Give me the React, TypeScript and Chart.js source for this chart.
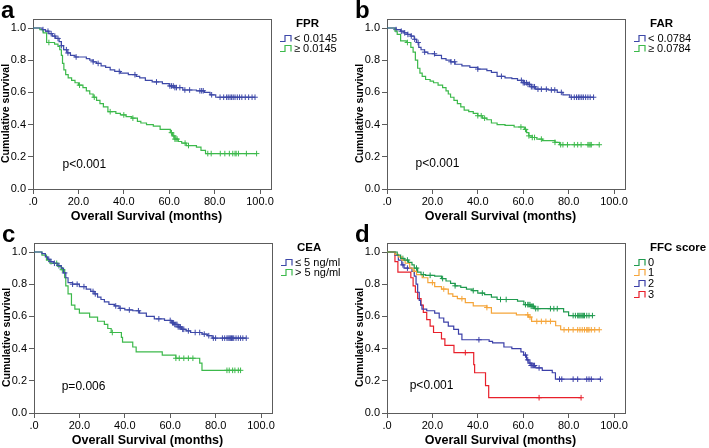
import React, { useEffect, useRef } from 'react';
import { Chart, registerables } from 'chart.js';

Chart.register(...registerables);

const FONT = '"Liberation Sans", Arial, Helvetica, sans-serif';
const TEXT = '#000000';
const FRAME = '#5c5c5c';

const xTicks = [0, 20, 40, 60, 80, 100];
const yTicks = [0, 0.2, 0.4, 0.6, 0.8, 1.0];
const xTitle = 'Overall Survival (months)';
const yTitle = 'Cumulative survival';

// ---------- Panel a (FPR) ----------
const aLowT = [0, 4, 5.5, 7, 8.5, 10, 11.5, 12.5, 13.5, 15, 16.5, 18.5, 23.5, 25, 26.5, 28, 30, 32, 34, 36, 38.5, 42, 45.5, 47, 49.5, 52.5, 57, 60, 62.5, 66, 72, 75.5, 78, 80.5];
const aLowS = [1, 0.99, 0.98, 0.965, 0.95, 0.935, 0.915, 0.89, 0.865, 0.845, 0.83, 0.82, 0.81, 0.8, 0.79, 0.78, 0.765, 0.755, 0.74, 0.73, 0.72, 0.71, 0.7, 0.69, 0.675, 0.665, 0.655, 0.64, 0.63, 0.615, 0.61, 0.6, 0.585, 0.57];
const aLowC = [4.4, 6.6, 8, 9.6, 11, 12.5, 14.7, 15.4, 19, 26.5, 28.7, 38, 44.9, 54.4, 60.3, 61, 61.8, 62.5, 63.2, 64.7, 66.9, 69, 73.5, 74.3, 75, 78.7, 82.4, 84, 85.3, 86, 86.8, 87.5, 88.2, 89, 90, 91, 92, 93.5, 95, 96.5, 97.8];
const aHighT = [0, 3, 4.5, 6, 9.5, 11, 11.8, 12.5, 13, 13.6, 14.4, 15.5, 17, 18.5, 20, 22, 23.5, 25, 26.5, 28, 29.5, 31, 33, 36.5, 38.5, 41, 43.5, 46, 47.5, 50, 53, 56, 60.5, 61.5, 62.5, 64, 65.5, 67.5, 72, 74, 76];
const aHighS = [1, 0.99, 0.97, 0.91, 0.9, 0.885, 0.865, 0.83, 0.78, 0.74, 0.71, 0.69, 0.675, 0.66, 0.645, 0.63, 0.61, 0.59, 0.57, 0.55, 0.53, 0.51, 0.48, 0.47, 0.46, 0.45, 0.44, 0.42, 0.41, 0.4, 0.39, 0.37, 0.35, 0.33, 0.31, 0.295, 0.285, 0.27, 0.26, 0.24, 0.22];
const aHighC = [7, 20.5, 27, 34, 40, 44, 61, 62, 62.5, 63, 63.5, 67, 68.5, 77, 78.5, 82.5, 84.5, 86.5, 88, 89, 89.5, 90.5, 94, 98.5];

// ---------- Panel b (FAR) ----------
const bLowT = [0, 4, 6, 7.5, 9, 10.5, 12, 13, 14, 15, 16.5, 18, 21, 24, 26, 28, 30, 33, 36.5, 40, 44, 46, 48.5, 52, 55, 57.5, 60, 62, 63.5, 65.5, 71, 75, 77.5, 80.5];
const bLowS = [1, 0.99, 0.98, 0.97, 0.96, 0.95, 0.93, 0.91, 0.88, 0.865, 0.85, 0.84, 0.83, 0.81, 0.8, 0.79, 0.775, 0.765, 0.755, 0.745, 0.735, 0.725, 0.7, 0.69, 0.685, 0.675, 0.66, 0.65, 0.635, 0.62, 0.615, 0.6, 0.585, 0.57];
const bLowC = [4, 6.3, 7.8, 9.2, 10.7, 12.2, 13.7, 16.6, 20.9, 28.2, 29.8, 40, 50.4, 59.2, 60, 60.6, 61.4, 62.1, 62.8, 63.6, 64.3, 65, 66.5, 68, 70.2, 72.4, 73.9, 76.8, 81.2, 82.5, 83.5, 84.3, 85, 85.8, 86.5, 87.5, 88.5, 89.5, 91];
const bHighT = [0, 3.5, 4.5, 6, 8.5, 10.5, 11.5, 12.5, 13.5, 14.5, 15.5, 17, 19, 20.5, 22.5, 24.5, 26, 27, 28, 29.5, 31, 32.5, 34, 36, 38, 40, 42, 44, 46, 48.5, 52, 56, 60.5, 61.5, 62.5, 64, 66, 68.5, 74, 76];
const bHighS = [1, 0.98, 0.96, 0.92, 0.91, 0.88, 0.85, 0.8, 0.75, 0.72, 0.7, 0.68, 0.67, 0.66, 0.645, 0.63, 0.61, 0.59, 0.57, 0.55, 0.53, 0.51, 0.49, 0.48, 0.47, 0.455, 0.44, 0.43, 0.41, 0.4, 0.395, 0.385, 0.37, 0.35, 0.33, 0.32, 0.31, 0.3, 0.29, 0.275];
const bHighC = [9, 40, 41.5, 43, 59, 61, 62.5, 64, 65, 68, 74, 76.5, 77.5, 79.5, 82.5, 84, 85.5, 88.5, 89, 89.5, 90, 93.5];

// ---------- Panel c (CEA) ----------
const cLowT = [0, 3.5, 5, 6, 7, 8.5, 10.5, 12, 13, 14, 15, 17, 20, 23, 25, 26.5, 28, 29.5, 31, 33, 35.5, 37.5, 40, 43.5, 46.5, 49.5, 53, 57.5, 60.5, 62, 63.5, 65, 67, 69, 74, 76.5, 78.5];
const cLowS = [1, 0.99, 0.97, 0.955, 0.94, 0.93, 0.915, 0.9, 0.87, 0.84, 0.81, 0.8, 0.785, 0.77, 0.755, 0.74, 0.72, 0.705, 0.69, 0.675, 0.665, 0.65, 0.64, 0.635, 0.62, 0.6, 0.585, 0.575, 0.56, 0.55, 0.535, 0.52, 0.51, 0.5, 0.49, 0.48, 0.465];
const cLowC = [6.5, 7.5, 9, 11, 13.5, 17, 19, 22, 26, 27, 36, 38, 42, 46, 55, 60, 61, 61.5, 62, 62.5, 63, 63.5, 64, 64.5, 65.5, 66, 68, 71, 73, 75, 77, 79, 80, 83, 84, 85, 85.5, 86, 86.5, 87, 87.5, 88, 89, 90, 91, 92, 93.5];
const cHighT = [0, 3.5, 5.5, 7, 10.5, 12, 13.5, 14, 15, 16.5, 18, 20, 24.5, 28, 31, 32.5, 34, 38.5, 39, 43.5, 45, 56.5, 62.5, 73, 74];
const cHighS = [1, 0.98, 0.95, 0.93, 0.91, 0.89, 0.84, 0.79, 0.74, 0.67, 0.645, 0.62, 0.595, 0.57, 0.55, 0.525, 0.5, 0.47, 0.44, 0.41, 0.38, 0.36, 0.34, 0.31, 0.265];
const cHighC = [10, 12.5, 34.5, 62.5, 64, 66, 68, 70, 85, 86, 87.5, 88.5, 90, 91];

// ---------- Panel d (FFC score) ----------
const d0T = [0, 4.5, 6, 7.5, 9.5, 11, 12, 13.5, 15, 17, 21, 24, 26, 28, 30, 32.5, 35, 37.5, 40, 43, 46, 48.5, 57.5, 60.3, 63.2, 65, 77.8, 80];
const d0S = [1, 0.98, 0.96, 0.95, 0.935, 0.92, 0.9, 0.875, 0.86, 0.855, 0.85, 0.835, 0.82, 0.805, 0.79, 0.78, 0.77, 0.76, 0.745, 0.735, 0.72, 0.705, 0.695, 0.673, 0.663, 0.648, 0.628, 0.605];
const d0C = [7, 9, 13, 16, 19, 24.5, 30, 38, 42, 50, 52.5, 61, 62, 62.5, 63, 63.5, 64, 64.5, 65.5, 66.5, 72, 73.5, 75, 82, 83, 84, 84.5, 85, 85.5, 86, 86.5, 87, 88, 89, 90.5];
const d1T = [0, 3.5, 5, 6.5, 8, 10, 11.5, 13, 15.5, 18, 21, 24, 27, 29, 31, 34.5, 38, 44, 46, 57, 62.4, 63.7, 74.3, 76.5];
const d1S = [1, 0.985, 0.97, 0.95, 0.93, 0.9, 0.88, 0.86, 0.84, 0.81, 0.785, 0.77, 0.74, 0.725, 0.71, 0.685, 0.665, 0.655, 0.62, 0.61, 0.596, 0.569, 0.542, 0.517];
const d1C = [12, 20, 25, 33, 44, 62, 63, 66, 68, 70, 72, 78, 80, 82, 84, 85, 86, 87, 88, 88.5, 89, 90, 91.5, 93.5];
const d2T = [0, 3.5, 5, 6.5, 7.5, 11, 12, 12.8, 13.5, 14.2, 14.8, 15.4, 17.5, 21, 23, 25, 27, 29.4, 31.5, 33, 45, 46.5, 51.5, 55, 59, 60.2, 61.5, 62.5, 63.5, 65.5, 68.4, 72.8, 74.2];
const d2S = [1, 0.98, 0.95, 0.92, 0.9, 0.88, 0.85, 0.8, 0.75, 0.7, 0.67, 0.645, 0.635, 0.62, 0.59, 0.565, 0.54, 0.52, 0.49, 0.455, 0.445, 0.435, 0.41, 0.4, 0.38, 0.36, 0.33, 0.31, 0.295, 0.28, 0.265, 0.25, 0.21];
const d2C = [7, 9, 40.5, 61, 62, 63, 63.5, 64, 64.5, 65, 67, 76, 77, 82, 84, 88, 89, 90, 94];
const d3T = [0, 3.5, 4.8, 10.5, 11.5, 12.5, 13.5, 15, 16, 17.5, 19, 20.5, 24, 25.5, 29.5, 38.2, 38.6, 43.4, 44.8];
const d3S = [1, 0.94, 0.875, 0.84, 0.79, 0.75, 0.71, 0.67, 0.625, 0.58, 0.54, 0.5, 0.46, 0.42, 0.375, 0.3, 0.25, 0.17, 0.095];
const d3C = [34.5, 67, 85.5];

const BLUE = '#3d48a8';
const GREEN = '#3cb94b';
const D_GREEN = '#1f9a4e';
const ORANGE = '#f5a53a';
const D_BLUE = '#3b3fa8';
const RED = '#e8202b';

type Series = { label: string; color: string; t: number[]; s: number[]; c: number[] };
type PanelCfg = {
  letter: string; title: string; p: string; pAt: { x: number; y: number };
  left: number; top: number; series: Series[];
};

const panels: PanelCfg[] = [
  {
    letter: 'a', title: 'FPR', p: 'p<0.001', pAt: { x: 13, y: 0.132 }, left: 0, top: 0,
    series: [
      { label: '< 0.0145', color: BLUE, t: aLowT, s: aLowS, c: aLowC },
      { label: '\u2265 0.0145', color: GREEN, t: aHighT, s: aHighS, c: aHighC },
    ],
  },
  {
    letter: 'b', title: 'FAR', p: 'p<0.001', pAt: { x: 12.6, y: 0.137 }, left: 354, top: 0,
    series: [
      { label: '< 0.0784', color: BLUE, t: bLowT, s: bLowS, c: bLowC },
      { label: '\u2265 0.0784', color: GREEN, t: bHighT, s: bHighS, c: bHighC },
    ],
  },
  {
    letter: 'c', title: 'CEA', p: 'p=0.006', pAt: { x: 12.2, y: 0.14 }, left: 1, top: 224,
    series: [
      { label: '\u2264 5 ng/ml', color: BLUE, t: cLowT, s: cLowS, c: cLowC },
      { label: '> 5 ng/ml', color: GREEN, t: cHighT, s: cHighS, c: cHighC },
    ],
  },
  {
    letter: 'd', title: 'FFC score', p: 'p<0.001', pAt: { x: 10, y: 0.149 }, left: 354, top: 224,
    series: [
      { label: '0', color: D_GREEN, t: d0T, s: d0S, c: d0C },
      { label: '1', color: ORANGE, t: d1T, s: d1S, c: d1C },
      { label: '2', color: D_BLUE, t: d2T, s: d2S, c: d2C },
      { label: '3', color: RED, t: d3T, s: d3S, c: d3C },
    ],
  },
];

function stepPoints(t: number[], s: number[], c: number[]) {
  const pts = t.map((x, i) => ({ x, y: s[i] }));
  const lastT = t[t.length - 1];
  const end = Math.max(lastT, ...c);
  if (end > lastT) pts.push({ x: end, y: s[s.length - 1] });
  return pts;
}

function censorPoints(t: number[], s: number[], c: number[]) {
  return c.map((x) => {
    let v = s[0];
    for (let i = 0; i < t.length; i++) if (t[i] <= x) v = s[i];
    return { x, y: v };
  });
}

const decoPlugin = {
  id: 'deco',
  beforeDatasetsDraw(chart: any) {
    const { ctx, chartArea: a } = chart;
    ctx.save();
    ctx.strokeStyle = FRAME;
    ctx.lineWidth = 1;
    const l = Math.round(a.left) + 0.5;
    const t = Math.round(a.top - 9) + 0.5;
    const r = Math.round(a.right + 10.5) + 0.5;
    const b = Math.round(a.bottom) + 0.5;
    ctx.strokeRect(l, t, r - l, b - t);
    ctx.restore();
  },
  afterDraw(chart: any, _args: any, opts: any) {
    const { ctx, chartArea: a } = chart;
    ctx.save();
    ctx.fillStyle = TEXT;
    ctx.textAlign = 'left';
    ctx.textBaseline = 'alphabetic';
    ctx.font = `bold 24px ${FONT}`;
    ctx.fillText(opts.letter, 1, a.top - 10);

    // y-axis title
    ctx.save();
    ctx.translate(6, (a.top + a.bottom) / 2 + 5);
    ctx.rotate(-Math.PI / 2);
    ctx.textAlign = 'center';
    ctx.textBaseline = 'middle';
    ctx.font = `bold 10.5px ${FONT}`;
    ctx.fillText(opts.yTitle, 0, 0);
    ctx.restore();

    const R = a.right;
    ctx.font = `bold 11.5px ${FONT}`;
    ctx.fillText(opts.title, R + 36, a.top - 1);
    (opts.items as { label: string; color: string }[]).forEach((it, i) => {
      const yc = Math.round(a.top + 9.5 + i * 10.9) + 0.5;
      ctx.strokeStyle = it.color;
      ctx.lineWidth = 1.2;
      ctx.beginPath();
      ctx.moveTo(R + 20, yc + 3);
      ctx.lineTo(R + 25, yc + 3);
      ctx.lineTo(R + 25, yc - 3);
      ctx.lineTo(R + 31, yc - 3);
      ctx.lineTo(R + 31, yc + 3);
      ctx.stroke();
      ctx.fillStyle = TEXT;
      ctx.font = `11px ${FONT}`;
      ctx.textBaseline = 'middle';
      ctx.fillText(it.label, R + 34, yc);
    });

    ctx.textBaseline = 'alphabetic';
    ctx.font = `12px ${FONT}`;
    const px = chart.scales.x.getPixelForValue(opts.pAt.x);
    const py = chart.scales.y.getPixelForValue(opts.pAt.y);
    ctx.fillText(opts.p, px, py);
    ctx.restore();
  },
};

function fmtX(v: number) {
  return v === 0 ? '.0' : v.toFixed(1);
}

function Panel({ cfg }: { cfg: PanelCfg }) {
  const ref = useRef<HTMLCanvasElement | null>(null);
  useEffect(() => {
    if (!ref.current) return;
    const lines = cfg.series.map((s) => ({
      label: s.label,
      data: stepPoints(s.t, s.s, s.c),
      stepped: true,
      borderColor: s.color,
      backgroundColor: s.color,
      borderWidth: 1.2,
      pointRadius: 0,
      fill: false,
      clip: false,
    }));
    const cens = cfg.series.map((s) => ({
      label: s.label + ' censored',
      data: censorPoints(s.t, s.s, s.c),
      showLine: false,
      pointStyle: 'cross',
      pointRadius: 2.8,
      pointBorderWidth: 1,
      borderColor: s.color,
      backgroundColor: s.color,
      clip: false,
    }));
    const chart = new Chart(ref.current, {
      type: 'line',
      data: { datasets: [...lines, ...cens] as any },
      options: {
        animation: false,
        responsive: false,
        devicePixelRatio: 1,
        events: [],
        layout: { padding: { left: 0, top: 28, right: 95, bottom: 0 } },
        plugins: {
          legend: { display: false },
          tooltip: { enabled: false },
          deco: {
            letter: cfg.letter,
            title: cfg.title,
            yTitle,
            p: cfg.p,
            pAt: cfg.pAt,
            items: cfg.series.map((s) => ({ label: s.label, color: s.color })),
          },
        } as any,
        scales: {
          x: {
            type: 'linear',
            min: 0,
            max: 100,
            afterBuildTicks: (s: any) => { s.ticks = xTicks.map((v) => ({ value: v })); },
            afterFit: (s: any) => { s.height = 35; },
            grid: { display: true, drawOnChartArea: false, drawTicks: true, tickLength: 5, color: FRAME, lineWidth: 1 },
            border: { display: false },
            ticks: {
              font: { family: FONT, size: 11 },
              color: TEXT,
              padding: 1,
              maxRotation: 0,
              autoSkip: false,
              callback: (v: any) => fmtX(Number(v)),
            },
            title: {
              display: true,
              text: xTitle,
              color: TEXT,
              font: { family: FONT, size: 12.5, weight: 'bold' },
              padding: { top: 0, bottom: 0 },
            },
          },
          y: {
            type: 'linear',
            min: 0,
            max: 1,
            afterBuildTicks: (s: any) => { s.ticks = yTicks.map((v) => ({ value: v })); },
            afterFit: (s: any) => { s.width = 33; },
            grid: { display: true, drawOnChartArea: false, drawTicks: true, tickLength: 5, color: FRAME, lineWidth: 1 },
            border: { display: false },
            ticks: {
              font: { family: FONT, size: 11 },
              color: TEXT,
              padding: 2,
              autoSkip: false,
              callback: (v: any) => Number(v).toFixed(1),
            },
            title: { display: false },
          },
        },
      } as any,
      plugins: [decoPlugin],
    });
    return () => chart.destroy();
  }, []);
  return (
    <canvas
      ref={ref}
      width={355}
      height={224}
      style={{ position: 'absolute', left: cfg.left, top: cfg.top, width: 355, height: 224 }}
    />
  );
}

export default function App() {
  return (
    <div style={{ position: 'absolute', left: 0, top: 0, width: 709, height: 448, background: '#ffffff', overflow: 'hidden' }}>
      {panels.map((p) => (
        <Panel key={p.letter} cfg={p} />
      ))}
    </div>
  );
}
